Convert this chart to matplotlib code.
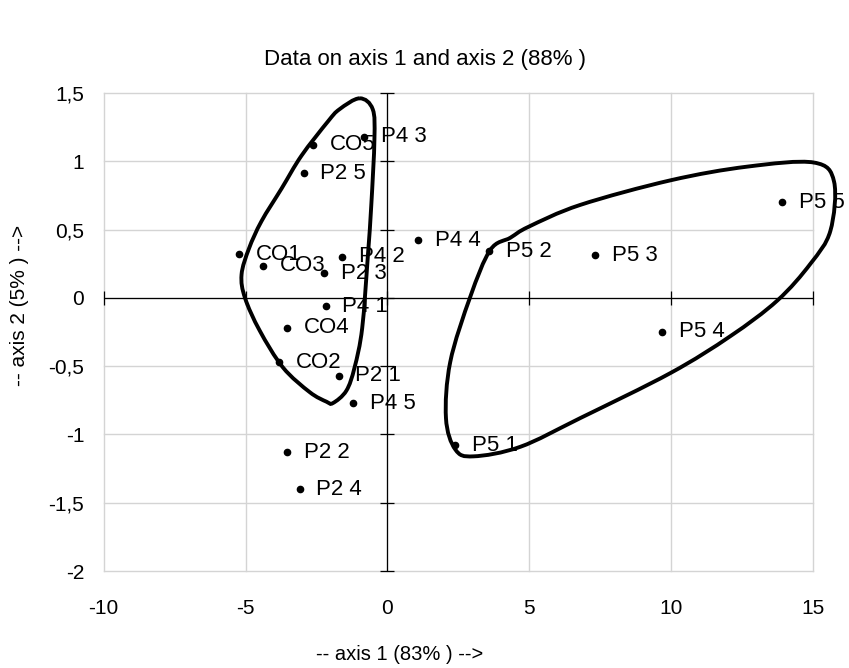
import numpy as np
import matplotlib
matplotlib.use("Agg")
import matplotlib.pyplot as plt
from matplotlib.path import Path
from matplotlib.patches import PathPatch

plt.rcParams['font.family'] = ['Liberation Sans', 'DejaVu Sans']

# ---- data ----
labels = ["CO1", "CO2", "CO3", "CO4", "CO5",
          "P2 1", "P2 2", "P2 3", "P2 4", "P2 5",
          "P4 1", "P4 2", "P4 3", "P4 4", "P4 5",
          "P5 1", "P5 2", "P5 3", "P5 4", "P5 5"]
axis1 = [-5.22, -3.82, -4.38, -3.54, -2.62,
         -1.72, -3.54, -2.24, -3.09, -2.95,
         -2.18, -1.59, -0.83, 1.08, -1.20,
         2.39, 3.59, 7.31, 9.68, 13.9]
axis2 = [0.32, -0.47, 0.235, -0.22, 1.12,
         -0.57, -1.13, 0.18, -1.40, 0.91,
         -0.06, 0.30, 1.18, 0.42, -0.77,
         -1.08, 0.34, 0.31, -0.25, 0.70]

x_ticks = [-10, -5, 0, 5, 10, 15]
x_ticklabels = ["-10", "-5", "0", "5", "10", "15"]
y_ticks = [1.5, 1, 0.5, 0, -0.5, -1, -1.5, -2]
y_ticklabels = ["1,5", "1", "0,5", "0", "-0,5", "-1", "-1,5", "-2"]

# outlines of the two groups (data coordinates)
group1_x = [-0.98, -0.52, -0.46, -0.57, -0.69, -0.89, -1.16, -1.45, -1.92, -2.15,
            -2.74, -3.68, -4.5, -5.02, -5.14, -4.88, -4.44, -3.73, -3.03, -2.1, -1.69]
group1_y = [1.46, 1.38, 1.16, 0.68, 0.31, -0.22, -0.51, -0.68, -0.77, -0.76,
            -0.69, -0.51, -0.24, 0.0, 0.17, 0.36, 0.56, 0.80, 1.04, 1.29, 1.38]
group2_x = [15.02, 15.73, 15.6, 14.9, 13.73, 12.08, 9.97, 6.79, 4.68,
            3.03, 2.39, 2.06, 2.21, 2.92, 3.62, 4.33, 4.97, 6.79, 9.97, 12.67]
group2_y = [0.99, 0.85, 0.49, 0.25, -0.02, -0.28, -0.55, -0.88, -1.09,
            -1.16, -1.11, -0.88, -0.47, 0.01, 0.35, 0.44, 0.52, 0.68, 0.86, 0.96]

title = "Data on axis 1 and axis 2 (88% )"
xlabel = "-- axis 1 (83% ) -->"
ylabel = "-- axis 2 (5% ) -->"


def closed_smooth_path(xs, ys):
    p = np.column_stack([xs, ys])
    n = len(p)
    verts = [p[0]]
    codes = [Path.MOVETO]
    for i in range(n):
        p0 = p[(i - 1) % n]
        p1 = p[i]
        p2 = p[(i + 1) % n]
        p3 = p[(i + 2) % n]
        c1 = p1 + (p2 - p0) / 6.0
        c2 = p2 - (p3 - p1) / 6.0
        verts += [c1, c2, p2]
        codes += [Path.CURVE4] * 3
    return Path(verts, codes)


fig = plt.figure(figsize=(8.49, 6.68), dpi=100)
ax = fig.add_axes([0.122, 0.145, 0.836, 0.716])

ax.set_xlim(-10, 15)
ax.set_ylim(-2, 1.5)
ax.set_xticks(x_ticks)
ax.set_xticklabels(x_ticklabels)
ax.set_yticks(y_ticks)
ax.set_yticklabels(y_ticklabels)
ax.tick_params(length=0, labelsize=15)
ax.tick_params(axis="x", pad=20)
ax.tick_params(axis="y", pad=14)
for s in ax.spines.values():
    s.set_visible(False)
ax.grid(True, color="#d4d4d4", linewidth=1.0)
ax.set_axisbelow(True)
for gl in ax.get_xgridlines() + ax.get_ygridlines():
    gl.set_clip_on(False)

# axes through origin with crossing ticks
ax.axhline(0, color="black", linewidth=0.9, zorder=2)
ax.axvline(0, color="black", linewidth=0.9, zorder=2)
ax.plot(x_ticks, [0] * len(x_ticks), ls="none", marker="|", ms=10,
        mew=0.9, color="black", clip_on=False, zorder=2)
ax.plot([0] * len(y_ticks), y_ticks, ls="none", marker="_", ms=10,
        mew=0.9, color="black", clip_on=False, zorder=2)

# group outlines
for gx, gy in ((group1_x, group1_y), (group2_x, group2_y)):
    patch = PathPatch(closed_smooth_path(gx, gy), facecolor="none",
                      edgecolor="black", linewidth=2.8, clip_on=False, zorder=3)
    ax.add_patch(patch)

# points and labels
ax.plot(axis1, axis2, ls="none", marker="o", ms=4.5, color="black", zorder=4)
for lab, xv, yv in zip(labels, axis1, axis2):
    ax.annotate(lab, (xv, yv), xytext=(12, 0), textcoords="offset points",
                ha="left", va="center", fontsize=16, zorder=5,
                annotation_clip=False)

W, H = 849, 668
fig.text(0.5, 1 - 60 / H, title, ha="center", va="center", fontsize=16)
fig.text(400 / W, 1 - 655 / H, xlabel, ha="center", va="center", fontsize=14.5)
fig.text(20 / W, 1 - 305 / H, ylabel, ha="center", va="center",
         rotation=90, fontsize=15)

fig.savefig("out.png", dpi=100)
